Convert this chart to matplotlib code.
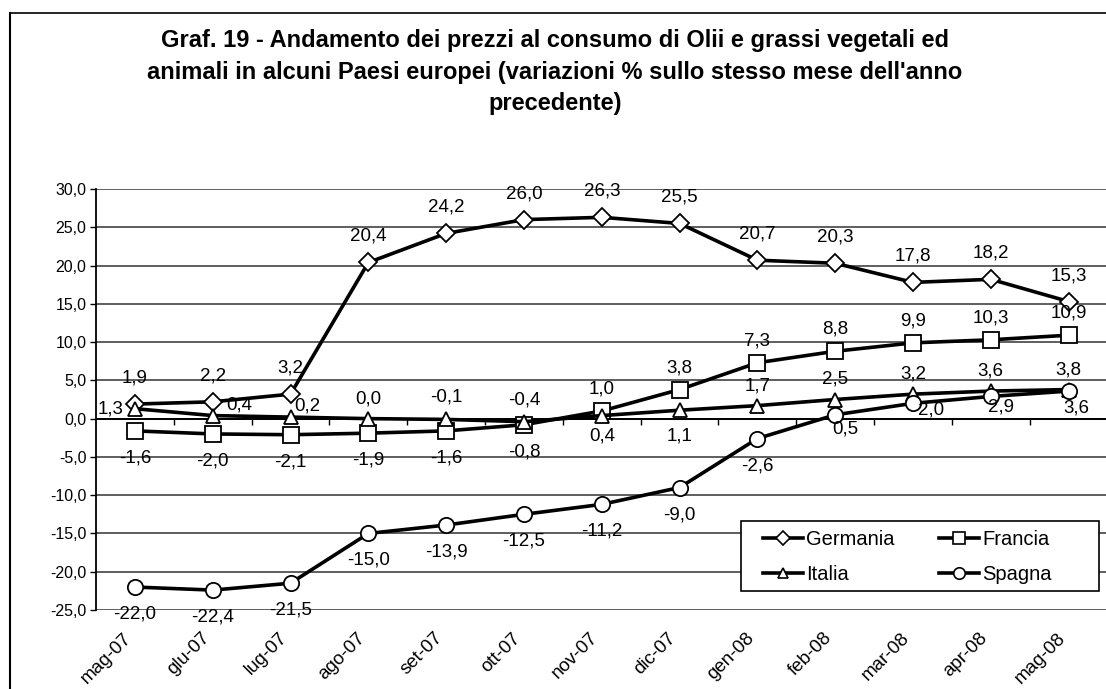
"""Graf. 19 - prezzi al consumo olii e grassi, variazioni % tendenziali"""

import matplotlib
matplotlib.use('Agg')
import matplotlib.pyplot as plt
import matplotlib.transforms as mtransforms
from matplotlib.lines import Line2D
from matplotlib.patches import Rectangle

plt.rcParams['font.family'] = ['Liberation Sans', 'DejaVu Sans']

months = ['mag-07', 'giu-07', 'lug-07', 'ago-07', 'set-07', 'ott-07', 'nov-07',
          'dic-07', 'gen-08', 'feb-08', 'mar-08', 'apr-08', 'mag-08']
month_labels = ['mag-07', 'glu-07', 'lug-07', 'ago-07', 'set-07', 'ott-07', 'nov-07',
                'dic-07', 'gen-08', 'feb-08', 'mar-08', 'apr-08', 'mag-08']

germania = [1.9, 2.2, 3.2, 20.4, 24.2, 26.0, 26.3, 25.5, 20.7, 20.3, 17.8, 18.2, 15.3]
francia = [-1.6, -2.0, -2.1, -1.9, -1.6, -0.8, 1.0, 3.8, 7.3, 8.8, 9.9, 10.3, 10.9]
italia = [1.3, 0.4, 0.2, 0.0, -0.1, -0.4, 0.4, 1.1, 1.7, 2.5, 3.2, 3.6, 3.8]
spagna = [-22.0, -22.4, -21.5, -15.0, -13.9, -12.5, -11.2, -9.0, -2.6, 0.5, 2.0, 2.9, 3.6]

series = [('Germania', germania, 'D'), ('Francia', francia, 's'),
          ('Italia', italia, '^'), ('Spagna', spagna, 'o')]

# label offsets in pixels (dx, dy) for each point
UP, DOWN = (0, 26), (0, -27)
label_offsets = {
    'Germania': [UP] * 13,
    'Francia': [DOWN] * 6 + [(0, 22)] * 7,
    'Italia': [(-24, 0), (27, 11), (17, 11), (0, 20), (0, 22), (0, 22), (0, -20),
               (0, -26), (0, 20), (0, 20), (0, 20), (0, 20), (0, 20)],
    'Spagna': [DOWN] * 9 + [(10, -14), (18, -7), (10, -11), (8, -17)],
}
marker_sizes = {'D': 9, 's': 11, '^': 10, 'o': 11}

fig = plt.figure(figsize=(11.06, 6.89), dpi=100)
ax = fig.add_axes([96 / 1106, 79 / 689, 1 - 96 / 1106, (610 - 189) / 689])

x = list(range(len(months)))
ax.set_xlim(-0.5, 12.48)
ax.set_ylim(-25, 30)
ax.set_yticks(range(-25, 31, 5))
ax.set_yticklabels([f'{v:.1f}'.replace('.', ',') for v in range(-25, 31, 5)], fontsize=11.5)
ax.yaxis.grid(True, color='#333333', linewidth=1.1)
ax.set_axisbelow(True)
ax.set_xticks(x)
ax.set_xticklabels(month_labels, rotation=45, ha='right', rotation_mode='anchor', fontsize=13.5)
ax.tick_params(axis='x', length=0, pad=14)
ax.tick_params(axis='y', length=4, width=1, direction='out', pad=3)
shift = mtransforms.ScaledTranslation(-12 / 100, 0, fig.dpi_scale_trans)
for lab in ax.get_xticklabels():
    lab.set_transform(lab.get_transform() + shift)
for s in ['top', 'right', 'bottom']:
    ax.spines[s].set_visible(False)
ax.spines['left'].set_linewidth(1.3)

# category axis crossing at zero, with its tick marks
ax.axhline(0, color='black', linewidth=1.4, zorder=1)
ax.vlines([i + 0.5 for i in x], -0.8, 0, color='black', linewidth=1, zorder=1)

for name, vals, mk in series:
    ax.plot(x, vals, color='black', linewidth=2.6, marker=mk,
            markersize=marker_sizes[mk], markerfacecolor='white',
            markeredgecolor='black', markeredgewidth=1.3, zorder=3, label=name)
    for i, v in enumerate(vals):
        dx, dy = label_offsets[name][i]
        ax.annotate(f'{v:.1f}'.replace('.', ','), (i, v), xytext=(dx, dy),
                    textcoords='offset pixels', ha='center', va='center',
                    fontsize=13.5, zorder=4)

# legend box (Excel style, wider than its content)
ax.add_patch(Rectangle((741 / 1106, 1 - 591 / 689), 358 / 1106, 70 / 689,
                       transform=fig.transFigure, facecolor='white', edgecolor='black',
                       linewidth=1.2, zorder=4.5, clip_on=False))

# legend filled column-wise: Germania/Italia, Francia/Spagna
leg_order = [0, 2, 1, 3]
handles = [Line2D([], [], color='black', linewidth=2.6, marker=series[k][2],
                  markersize=marker_sizes[series[k][2]] * 0.75, markerfacecolor='white',
                  markeredgecolor='black', markeredgewidth=1.2)
           for k in leg_order]
leg = ax.legend(handles, [series[k][0] for k in leg_order], ncol=2, loc='center left',
                bbox_to_anchor=(763 / 1106, 1 - 557 / 689),
                bbox_transform=fig.transFigure,
                fontsize=14.5, frameon=False,
                handlelength=2.0, handletextpad=0.15, columnspacing=2.2,
                borderpad=0, labelspacing=0.8, borderaxespad=0)
leg.set_zorder(5)

fig.text(555 / 1106, 1 - 72 / 689,
         "Graf. 19 - Andamento dei prezzi al consumo di Olii e grassi vegetali ed\n"
         "animali in alcuni Paesi europei (variazioni % sullo stesso mese dell'anno\n"
         "precedente)",
         ha='center', va='center', fontsize=17, fontweight='bold', linespacing=1.45)

# scanned page frame
fig.add_artist(Line2D([10 / 1106, 10 / 1106], [0, 1 - 13 / 689], color='black', linewidth=1.5))
fig.add_artist(Line2D([10 / 1106, 1], [1 - 13 / 689, 1 - 13 / 689], color='black', linewidth=1.2))

plt.savefig('out.png', dpi=100)
